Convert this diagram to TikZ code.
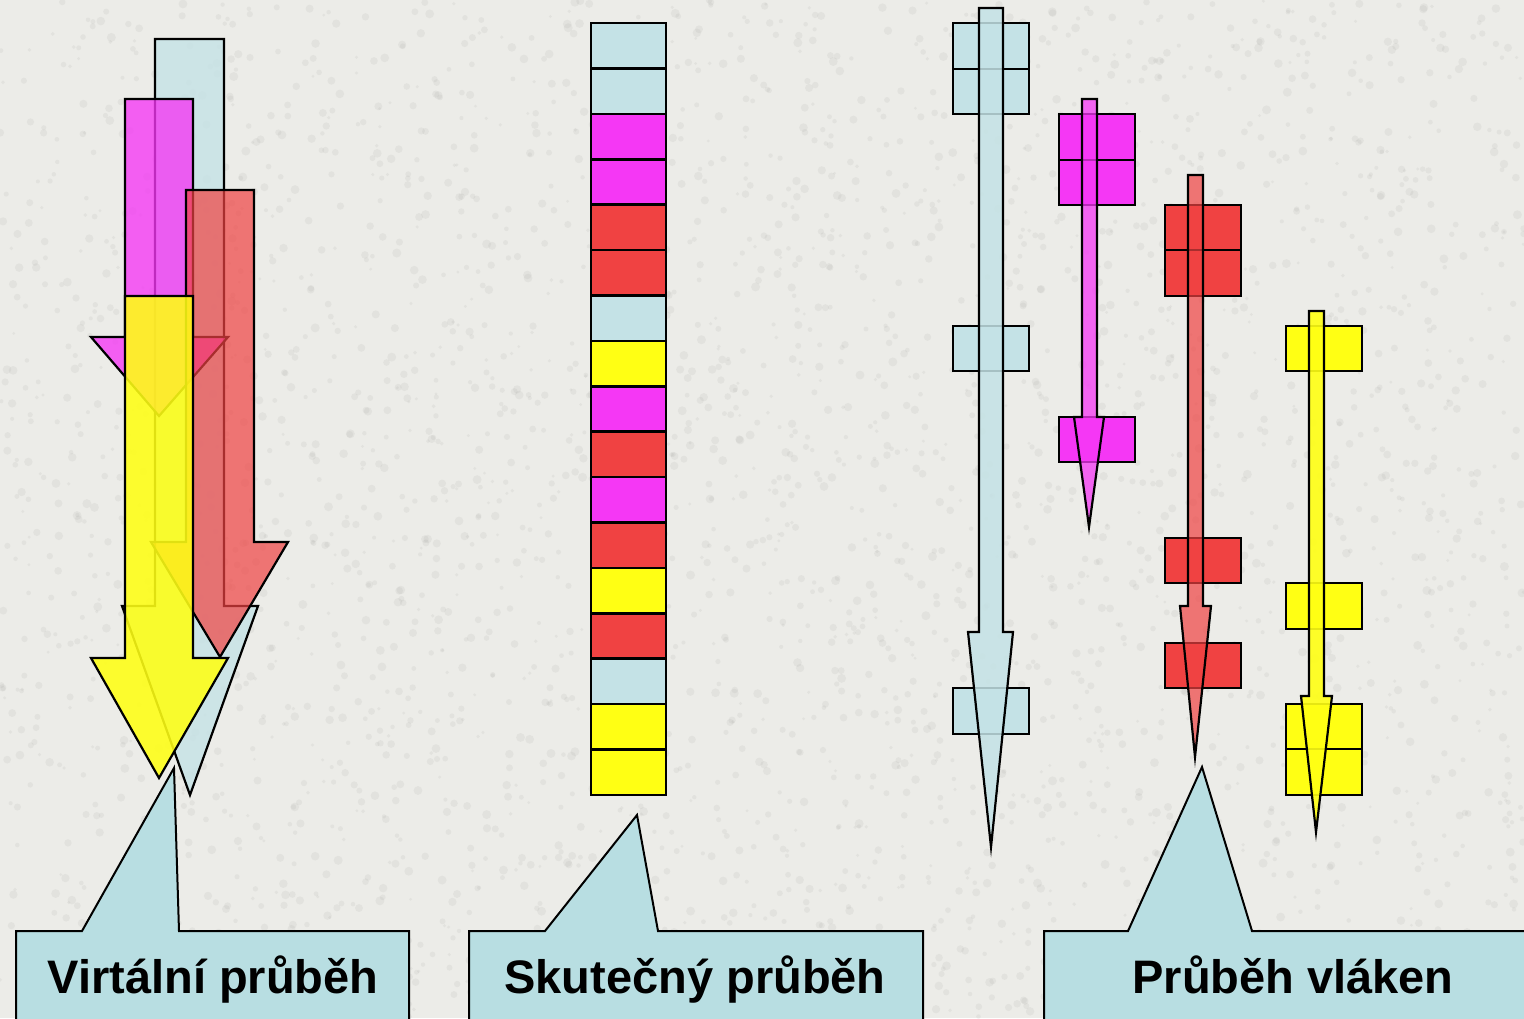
\documentclass[tikz,border=0pt]{standalone}
\usepackage{fontspec}
\setmainfont{Liberation Sans}
\begin{document}
\begin{tikzpicture}[x=0.5pt,y=-0.5pt]
\definecolor{stone}{RGB}{236,236,232}
\definecolor{speck}{RGB}{160,160,156}
\definecolor{lblue}{RGB}{196,226,230}
\definecolor{calloutblue}{RGB}{184,222,226}
\definecolor{pmag}{RGB}{245,55,245}
\definecolor{pred}{RGB}{240,66,66}
\definecolor{pyel}{RGB}{255,255,20}
\tikzset{
  outline/.style={draw=black, line width=1.1pt, line join=miter},
  ghost/.style={outline, fill opacity=0.78},
  cell/.style={outline, line width=1.3pt},
  callout/.style={draw=black, line width=1pt, fill=calloutblue, line join=miter},
  caption/.style={font=\bfseries\fontsize{23.5pt}{28pt}\selectfont, text=black, inner sep=0pt, anchor=base}
}
% page frame and stone background
\useasboundingbox (0,0) rectangle (1524,1018);
\clip (0,0) rectangle (1524,1018);
\fill[stone] (0,0) rectangle (1524,1018);
\pgfmathsetseed{7}
\foreach \i in {1,...,3500}{
  \pgfmathsetmacro\sx{1524*rnd}
  \pgfmathsetmacro\sy{1018*rnd}
  \pgfmathsetmacro\sr{1.5+3*rnd}
  \fill[speck, opacity=0.13] (\sx,\sy) circle[radius=\sr];
}

% ---- overlapping broad arrows ----
\path[ghost, fill=lblue] (155,39) -- (224,39) -- (224,606) -- (258,606) -- (190,795) -- (122,606) -- (155,606) -- cycle;
\path[ghost, fill=pmag] (125,99) -- (193,99) -- (193,337) -- (228,337) -- (159,416) -- (91,337) -- (125,337) -- cycle;
\path[ghost, fill=pred, fill opacity=0.7] (186,190) -- (254,190) -- (254,542) -- (288,542) -- (220,657) -- (151,542) -- (186,542) -- cycle;
\path[outline, fill=pyel, fill opacity=0.88] (125,296) -- (193,296) -- (193,658) -- (228,658) -- (159,778) -- (91,658) -- (125,658) -- cycle;

% ---- sequential column of time slices ----
\foreach \c [count=\k from 0] in {lblue,lblue,pmag,pmag,pred,pred,lblue,pyel,pmag,pred,pmag,pred,pyel,pred,lblue,pyel,pyel}{
  \pgfmathsetmacro\ya{23+45.41*\k}
  \pgfmathsetmacro\yb{23+45.41*(\k+1)}
  \path[cell, fill=\c] (591,\ya) rectangle (666,\yb);
}

% ---- individual threads: slices then thin arrows ----
% light blue thread
\path[cell, fill=lblue] (953,23) rectangle (1029,69);
\path[cell, fill=lblue] (953,69) rectangle (1029,114);
\path[cell, fill=lblue] (953,326) rectangle (1029,371);
\path[cell, fill=lblue] (953,688) rectangle (1029,734);
\path[outline, fill=lblue, fill opacity=0.85] (979,8) -- (1003,8) -- (1003,632) -- (1013,632) -- (991,847) -- (968,632) -- (979,632) -- cycle;
% magenta thread
\path[cell, fill=pmag] (1059,114) rectangle (1135,160);
\path[cell, fill=pmag] (1059,160) rectangle (1135,205);
\path[cell, fill=pmag] (1059,417) rectangle (1135,462);
\path[outline, fill=pmag, fill opacity=0.75] (1082,99) -- (1097,99) -- (1097,417) -- (1104,417) -- (1089,527) -- (1074,417) -- (1082,417) -- cycle;
% red thread
\path[cell, fill=pred] (1165,205) rectangle (1241,250);
\path[cell, fill=pred] (1165,250) rectangle (1241,296);
\path[cell, fill=pred] (1165,538) rectangle (1241,583);
\path[cell, fill=pred] (1165,643) rectangle (1241,688);
\path[outline, fill=pred, fill opacity=0.7] (1188,175) -- (1203,175) -- (1203,606) -- (1211,606) -- (1195,757) -- (1180,606) -- (1188,606) -- cycle;
% yellow thread
\path[cell, fill=pyel] (1286,326) rectangle (1362,371);
\path[cell, fill=pyel] (1286,583) rectangle (1362,629);
\path[cell, fill=pyel] (1286,704) rectangle (1362,749);
\path[cell, fill=pyel] (1286,749) rectangle (1362,795);
\path[outline, fill=pyel, fill opacity=0.9] (1309,311) -- (1324,311) -- (1324,696) -- (1332,696) -- (1316,832) -- (1301,696) -- (1309,696) -- cycle;

% ---- callouts ----
\coordinate (tipV) at (174,768);
\coordinate (tipS) at (637,815);
\coordinate (tipP) at (1202,767);
\path[callout] (16,1030) -- (16,931) -- (82,931) -- (tipV) -- (179,931) -- (409,931) -- (409,1030) -- cycle;
\path[callout] (469,1030) -- (469,931) -- (545,931) -- (tipS) -- (658,931) -- (923,931) -- (923,1030) -- cycle;
\path[callout] (1044,1030) -- (1044,931) -- (1128,931) -- (tipP) -- (1252,931) -- (1540,931) -- (1540,1030) -- cycle;
\node[caption] (virt) at (213,993) {Virtální průběh};
\node[caption] (skut) at (695,993) {Skutečný průběh};
\node[caption] (vlak) at (1293,993) {Průběh vláken};
\end{tikzpicture}
\end{document}
